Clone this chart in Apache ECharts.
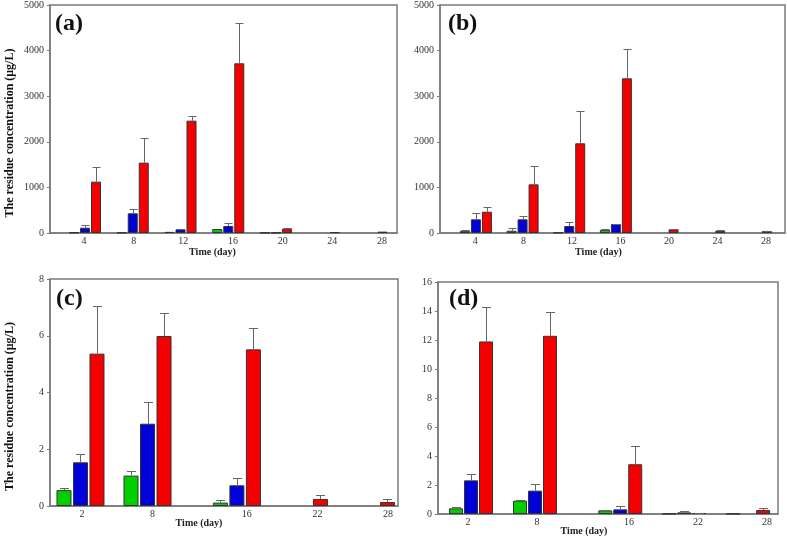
<!DOCTYPE html>
<html><head><meta charset="utf-8">
<script src="https://cdn.jsdelivr.net/npm/echarts@6/dist/echarts.min.js"></script>
<style>html,body{margin:0;padding:0;background:#fff}#c{width:787px;height:538px}</style>
</head><body><div id="c"></div>
<script>
// ---------- data ----------
// Panel (a)
const aDays = [4, 8, 12, 16, 20, 24, 28];
const aGreen = [12, 10, 25, 88, 5, null, null];
const aGreenSd = [0, 0, 0, 0, 0, 0, 0];
const aBlue = [116, 432, 81, 154, 5, null, null];
const aBlueSd = [60, 90, 0, 72, 0, 0, 0];
const aRed = [1125, 1542, 2463, 3721, 95, 20, 30];
const aRedSd = [330, 535, 103, 878, 25, 0, 0];
// Panel (b)
const bDays = [4, 8, 12, 16, 20, 24, 28];
const bGreen = [50, 50, 10, 70, null, null, null];
const bGreenSd = [5, 50, 0, 10, 0, 0, 0];
const bBlue = [300, 300, 153, 197, null, null, null];
const bBlueSd = [140, 75, 88, 10, 0, 0, 0];
const bRed = [467, 1067, 1967, 3392, 80, 48, 45];
const bRedSd = [110, 402, 716, 643, 18, 10, 5];
// Panel (c)
const cDays = [2, 8, 16, 22, 28];
const cGreen = [0.56, 1.07, 0.12, null, null];
const cGreenSd = [0.09, 0.17, 0.08, 0, 0];
const cBlue = [1.54, 2.9, 0.73, null, null];
const cBlueSd = [0.28, 0.76, 0.25, 0, 0];
const cRed = [5.37, 5.99, 5.52, 0.25, 0.14];
const cRedSd = [1.67, 0.8, 0.77, 0.14, 0.12];
// Panel (d)
const dDays = [2, 8, 16, 22, 28];
const dGreen = [0.39, 0.92, 0.25, 0.02, 0.02];
const dGreenSd = [0.07, 0.02, 0.05, 0, 0];
const dBlue = [2.32, 1.61, 0.32, 0.11, null];
const dBlueSd = [0.44, 0.44, 0.21, 0.12, 0];
const dRed = [11.9, 12.29, 3.43, 0.07, 0.28];
const dRedSd = [2.4, 1.64, 1.27, 0.02, 0.11];

const yTitle = 'The residue concentration (\u03bcg/L)';
const xTitle = 'Time (day)';
const panelLabels = ['(a)', '(b)', '(c)', '(d)'];
const yMax = [5000, 5000, 8, 16];
const yStep = [1000, 1000, 2, 2];

// ---------- styling / layout ----------
const FONT = '"Liberation Serif", "Times New Roman", serif';
const COLORS = ['#00d000', '#0000d8', '#f40000'];
const FRAME = '#7a7a7a';

const panels = [
  {days: aDays, vals: [aGreen, aBlue, aRed], sds: [aGreenSd, aBlueSd, aRedSd],
   grid: {left: 50, top: 5, width: 347, height: 228}, barMin: 1.07, barMax: 30.13, labMin: 1.26, labMax: 29.21,
   barWidth: 10, barGap: '10%', pitch: 11, cap: 8, yName: true, xShift: 22, xGap: 14, label: {left: 55, top: 12}},
  {days: bDays, vals: [bGreen, bBlue, bRed], sds: [bGreenSd, bBlueSd, bRedSd],
   grid: {left: 440, top: 5, width: 345, height: 228}, barMin: 0.92, barMax: 30.5, labMin: 1.1, labMax: 29.57,
   barWidth: 10, barGap: '10%', pitch: 11, cap: 8, yName: false, xShift: 28, xGap: 14, label: {left: 448, top: 12}},
  {days: cDays, vals: [cGreen, cBlue, cRed], sds: [cGreenSd, cBlueSd, cRedSd],
   grid: {left: 50, top: 279, width: 348, height: 227}, barMin: -0.73, barMax: 30.42, labMin: -0.72, labMax: 28.85,
   barWidth: 15, barGap: '10%', pitch: 16.5, cap: 9, yName: true, xShift: 50, xGap: 12, label: {left: 56, top: 287}},
  {days: dDays, vals: [dGreen, dBlue, dRed], sds: [dGreenSd, dBlueSd, dRedSd],
   grid: {left: 438, top: 282, width: 340, height: 232}, barMin: -1.1, barMax: 30.8, labMin: -0.61, labMax: 28.96,
   barWidth: 14, barGap: '7%', pitch: 15, cap: 9, yName: false, xShift: 48, xGap: 12, label: {left: 449, top: 287}}
];

const option = {
  animation: false,
  backgroundColor: '#fff',
  title: [], grid: [], xAxis: [], yAxis: [], series: []
};

panels.forEach((p, pi) => {
  option.grid.push(Object.assign({show: true, borderColor: FRAME, borderWidth: 1.5, backgroundColor: 'transparent'}, p.grid));
  option.title.push({text: panelLabels[pi], left: p.label.left, top: p.label.top, padding: 0,
    textStyle: {fontFamily: FONT, fontSize: 24, fontWeight: 'bold', color: '#111'}});
  // axis carrying the bars
  option.xAxis.push({
    type: 'value', gridIndex: pi, position: 'bottom', min: p.barMin, max: p.barMax,
    axisLine: {show: true, onZero: false, lineStyle: {color: FRAME, width: 1.5}},
    axisTick: {show: false}, axisLabel: {show: false}, splitLine: {show: false},
    name: xTitle, nameLocation: 'middle', nameGap: p.xGap,
    nameTextStyle: {fontFamily: FONT, fontSize: 10, fontWeight: 'bold', color: '#222', padding: [0, p.xShift, 0, 0]}
  });
  // axis carrying the day labels
  option.xAxis.push({
    type: 'value', gridIndex: pi, position: 'bottom', min: p.labMin, max: p.labMax,
    axisLine: {show: false, onZero: false}, axisTick: {show: false}, splitLine: {show: false},
    axisLabel: {customValues: p.days, fontFamily: FONT, fontSize: 10, color: '#333', margin: 3,
      showMinLabel: true, showMaxLabel: true, formatter: v => String(v)}
  });
  const y = {
    type: 'value', gridIndex: pi, min: 0, max: yMax[pi], interval: yStep[pi],
    axisLine: {show: true, onZero: false, lineStyle: {color: FRAME, width: 1.5}},
    axisTick: {show: true, inside: false, length: 3, lineStyle: {color: FRAME}},
    axisLabel: {fontFamily: FONT, fontSize: 10, color: '#333', margin: 6, formatter: v => String(v)},
    splitLine: {show: false}
  };
  if (p.yName) {
    Object.assign(y, {name: yTitle, nameLocation: 'middle', nameGap: 34, nameRotate: 90,
      nameTextStyle: {fontFamily: FONT, fontSize: 12, fontWeight: 'bold', color: '#111', padding: [0, 28, 0, 0]}});
  }
  option.yAxis.push(y);

  p.vals.forEach((vals, si) => {
    const data = [];
    p.days.forEach((d, i) => { if (vals[i] != null) data.push([d, vals[i]]); });
    option.series.push({
      type: 'bar', xAxisIndex: pi * 2, yAxisIndex: pi, data: data,
      barWidth: p.barWidth, barGap: p.barGap,
      itemStyle: {color: COLORS[si], borderColor: '#333', borderWidth: 1},
      z: 2
    });
  });
  p.vals.forEach((vals, si) => {
    const data = [];
    p.days.forEach((d, i) => { if (vals[i] != null && p.sds[si][i] > 0) data.push([d, vals[i], p.sds[si][i]]); });
    const offset = (si - 1) * p.pitch;
    option.series.push({
      type: 'custom', xAxisIndex: pi * 2, yAxisIndex: pi, data: data, z: 3,
      encode: {x: 0, y: 1},
      renderItem: function (params, api) {
        const x = api.value(0), m = api.value(1), s = api.value(2);
        const p0 = api.coord([x, m]);
        const p1 = api.coord([x, m + s]);
        const cx = Math.round(p0[0] + offset) + 0.5;
        const ty = Math.round(p1[1]) + 0.5;
        const st = {stroke: '#666', lineWidth: 1};
        return {type: 'group', children: [
          {type: 'line', shape: {x1: cx, y1: p0[1], x2: cx, y2: ty}, style: st},
          {type: 'line', shape: {x1: cx - p.cap / 2, y1: ty, x2: cx + p.cap / 2, y2: ty}, style: st}
        ]};
      }
    });
  });
});

const chart = echarts.init(document.getElementById('c'), null, {renderer: 'canvas'});
chart.setOption(option);
</script>
</body></html>
